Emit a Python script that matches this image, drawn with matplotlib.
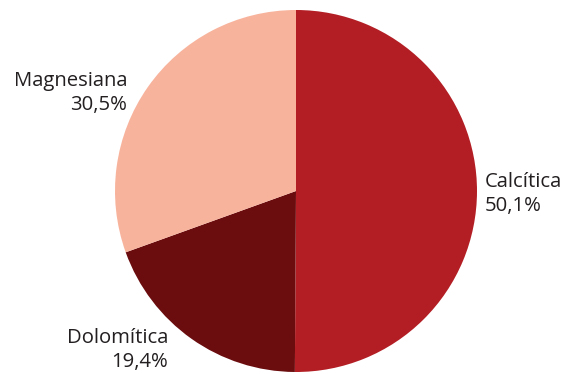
import matplotlib.pyplot as plt

# datos
labels = ["Calcítica", "Dolomítica", "Magnesiana"]
values = [50.1, 19.4, 30.5]
pct_text = ["50,1%", "19,4%", "30,5%"]
colors = ["#B31E24", "#6B0C0E", "#F8B39C"]

plt.rcParams['font.family'] = ['Open Sans', 'DejaVu Sans']

fig = plt.figure(figsize=(5.66, 3.74), dpi=100)
ax = fig.add_axes([0, 0, 1, 1])

# coordenadas en pixeles, y hacia arriba
H = 374
ax.pie(values, colors=colors, startangle=90, counterclock=False,
       center=(296, H - 191), radius=181,
       wedgeprops=dict(linewidth=0))
ax.set_xlim(0, 566)
ax.set_ylim(0, H)
ax.set_aspect('equal')
ax.axis('off')

# posiciones de las etiquetas (x, y, alineacion)
pos = [(485, H - 194, 'left'), (168, H - 350, 'right'), (127, H - 93, 'right')]
for lab, pt, (x, y, ha) in zip(labels, pct_text, pos):
    ax.text(x, y, lab + "\n" + pt, ha=ha, va='center', fontsize=14.6,
            color='#231F20', linespacing=1.32, multialignment=ha)

fig.savefig("out.png", dpi=100)
